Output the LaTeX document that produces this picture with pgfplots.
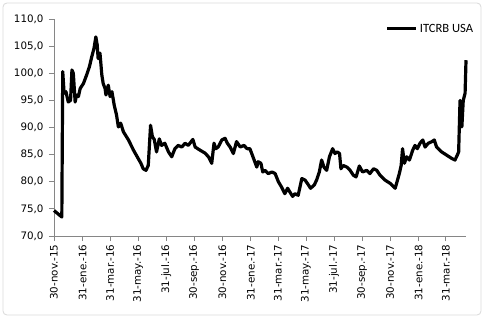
\documentclass[border=0pt]{standalone}
\usepackage{fontspec}
\setmainfont{DejaVu Sans}
\newfontfamily\legfont{Carlito}
\usepackage{pgfplots}
\pgfplotsset{compat=1.18}
\definecolor{axgray}{HTML}{868686}
\definecolor{bordergray}{HTML}{D9D9D9}
\begin{document}
\begin{tikzpicture}
\useasboundingbox (-54bp,-83bp) rectangle (429bp,236bp);
\draw[bordergray, line width=0.8bp, rounded corners=4bp] (-51bp,-79bp) rectangle (427bp,233bp);
\begin{axis}[
  scale only axis,
  width=412bp, height=217bp,
  xmin=0, xmax=896, ymin=70, ymax=110,
  axis lines*=left,
  axis line style={axgray, line width=0.8bp},
  every tick/.style={axgray, line width=0.8bp},
  tick align=outside, major tick length=5bp,
  ytick={70,75,...,110},
  yticklabel={\pgfmathprintnumber[fixed,fixed zerofill,precision=1,use comma]{\tick}},
  /pgf/number format/assume math mode=true,
  xtick={0,62,122,183,244,305,366,428,487,548,609,670,731,793,852},
  xticklabels={30-nov.-15,31-ene.-16,31-mar.-16,31-may.-16,31-jul.-16,30-sep.-16,30-nov.-16,31-ene.-17,31-mar.-17,31-may.-17,31-jul.-17,30-sep.-17,30-nov.-17,31-ene.-18,31-mar.-18},
  x tick label style={rotate=90, anchor=east, font=\fontsize{10.3bp}{12bp}\selectfont},
  y tick label style={font=\fontsize{10.3bp}{12bp}\selectfont, xshift=-2bp},
  legend style={at={(0.805,0.955)}, anchor=west, draw=none, fill=none, inner sep=0pt,
    font=\legfont\fontsize{12.6bp}{14bp}\selectfont},
  legend image code/.code={\draw[#1, line width=3bp] (0bp,0bp) -- (29bp,0bp);},
  clip=false,
]
\addplot[black, line width=3.2bp, line join=round] coordinates {
(0,74.7) (17,73.5) (19,100.3) (22,96.3) (26,96.6) (31,94.7) (36,95.0) (39,100.6) (42,100.0)
(46,94.7) (49,96.0) (53,95.7) (57,97.2) (64,98.1) (71,99.7) (77,101.2) (82,103.0) (87,104.6)
(91,106.7) (94,105.2) (96,102.7) (100,103.7) (104,99.7) (107,98.1) (111,97.2) (113,96.0)
(118,97.8) (122,95.7) (126,96.6) (131,94.1) (136,92.3) (140,90.1) (145,90.8) (151,89.2)
(162,87.7) (173,85.8) (181,84.6) (189,83.4) (194,82.4) (200,82.1) (205,83.0) (210,90.4)
(214,88.3) (218,87.8) (223,85.5) (229,87.9) (234,86.7) (241,87.1) (249,85.5) (256,84.6)
(263,86.1) (270,86.7) (278,86.4) (285,87.1) (292,86.7) (302,87.8) (307,86.4) (318,85.8)
(328,85.3) (336,84.6) (343,83.4) (348,87.1) (352,86.1) (357,86.4) (365,87.7) (372,88.0)
(377,87.1) (383,86.4) (390,85.2) (397,87.4) (405,86.4) (413,86.7) (420,86.1) (426,86.1)
(434,84.3) (441,82.7) (444,83.7) (450,83.4) (454,81.8) (459,82.1) (466,81.5) (474,81.8)
(481,81.5) (488,80.0) (495,79.0) (502,77.8) (508,78.8) (513,78.1) (519,77.3) (524,77.8)
(531,77.5) (539,80.6) (546,80.3) (551,79.7) (558,78.8) (566,79.4) (571,80.3) (577,81.8)
(582,84.0) (587,82.7) (593,82.1) (599,84.6) (606,86.1) (611,85.2) (616,85.5) (621,85.2)
(624,82.4) (629,83.0) (637,82.7) (644,82.1) (651,81.2) (657,80.9) (664,82.9) (671,81.8)
(680,82.1) (687,81.5) (695,82.4) (702,82.1) (709,81.2) (720,80.3) (731,79.7) (742,78.8)
(747,80.3) (751,81.5) (755,83.0) (758,86.1) (762,83.4) (767,84.6) (773,84.0) (780,85.8)
(785,86.7) (790,86.1) (796,87.1) (802,87.7) (807,86.4) (814,87.1) (822,87.4) (827,87.7)
(832,86.4) (843,85.5) (854,84.9) (865,84.3) (872,84.0) (877,84.9) (880,85.5) (883,95.0)
(887,90.1) (890,95.0) (894,96.3) (896,102.4)
};
\addlegendentry{ITCRB USA}
\end{axis}
\end{tikzpicture}
\end{document}
